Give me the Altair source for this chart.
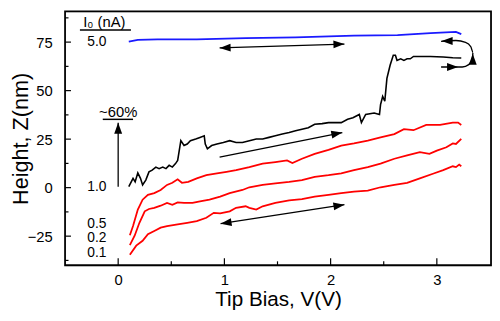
import altair as alt
import pandas as pd

# ---------------- data ----------------
blue_x = [0.10, 0.185, 0.37, 0.74, 1.20, 1.67, 2.22, 2.63, 2.94, 3.18, 3.23]
blue_y = [75.3, 76.2, 76.4, 76.4, 77.1, 77.4, 78.3, 78.6, 79.6, 80.3, 79.1]

black_x = [0.10, 0.14, 0.16, 0.185, 0.21, 0.23, 0.26, 0.29, 0.32, 0.355, 0.385, 0.42, 0.45, 0.48, 0.51,
           0.54, 0.56, 0.57, 0.59, 0.62, 0.65, 0.68, 0.73, 0.77, 0.81, 0.82, 0.84, 0.88, 0.93, 0.99,
           1.05, 1.11, 1.17, 1.235, 1.30, 1.36, 1.42, 1.48, 1.545, 1.61, 1.67, 1.73, 1.79, 1.85, 1.92,
           1.98, 2.04, 2.10, 2.16, 2.21, 2.27, 2.29, 2.33, 2.41, 2.46, 2.47, 2.49, 2.51, 2.53, 2.56,
           2.59, 2.61, 2.625, 2.66, 2.69, 2.72, 2.75, 2.78, 2.84, 2.94, 3.06, 3.15, 3.23]
black_y = [0.5, 4.8, 3.0, 7.6, 4.8, 1.4, 3.9, 8.1, 9.0, 10.6, 9.8, 10.6, 9.8, 11.5, 10.6,
           12.4, 14.0, 17.4, 24.2, 21.7, 22.5, 24.2, 25.1, 25.9, 26.7, 22.5, 20.0, 21.7, 22.5, 23.3,
           24.2, 23.3, 23.3, 24.2, 25.1, 25.1, 25.9, 26.7, 27.6, 28.4, 29.3, 30.1, 30.9, 32.7, 33.0,
           33.5, 33.5, 33.5, 35.2, 36.0, 37.7, 33.5, 37.7, 38.5, 37.7, 42.8, 47.0, 44.5, 56.3, 63.1,
           68.2, 68.2, 65.6, 66.4, 65.6, 66.4, 66.4, 67.6, 67.6, 67.6, 67.3, 66.9, 66.8]

red05_x = [0.11, 0.14, 0.185, 0.23, 0.28, 0.34, 0.40, 0.46, 0.51, 0.56, 0.60, 0.66, 0.74, 0.83, 0.93,
           1.02, 1.11, 1.235, 1.36, 1.48, 1.59, 1.64, 1.73, 1.85, 1.98, 2.10, 2.22, 2.35, 2.47, 2.60,
           2.69, 2.78, 2.90, 3.03, 3.15, 3.20, 3.23]
red05_y = [-24.5, -19.8, -11.3, -6.2, -3.7, -2.8, -1.2, 1.4, 2.5, 4.3, 2.5, 3.0, 4.8, 6.4, 7.3,
           8.1, 9.0, 10.6, 12.4, 13.2, 14.0, 12.7, 14.9, 17.4, 19.5, 21.7, 22.8, 24.2, 25.9, 27.6,
           30.1, 29.6, 32.3, 32.3, 33.5, 33.5, 32.3]

red02_x = [0.11, 0.155, 0.20, 0.25, 0.29, 0.34, 0.40, 0.46, 0.51, 0.56, 0.62, 0.70, 0.77, 0.86, 0.96,
           1.05, 1.17, 1.235, 1.36, 1.48, 1.61, 1.73, 1.85, 1.98, 2.10, 2.22, 2.35, 2.47, 2.60, 2.72,
           2.84, 2.93, 3.00, 3.09, 3.15, 3.18, 3.23]
red02_y = [-29.6, -24.8, -18.1, -12.2, -11.0, -10.4, -9.3, -7.9, -8.8, -7.6, -7.9, -7.9, -7.1, -6.2, -4.6,
           -2.8, -1.2, 0.2, 1.4, 2.2, 3.0, 3.9, 5.6, 6.4, 7.3, 9.0, 10.6, 12.4, 14.9, 16.6,
           18.3, 17.4, 19.1, 20.8, 22.8, 22.5, 25.1]

red01_x = [0.11, 0.17, 0.23, 0.28, 0.34, 0.40, 0.46, 0.56, 0.65, 0.74, 0.83, 0.90, 0.96, 1.05, 1.11,
           1.20, 1.235, 1.30, 1.36, 1.48, 1.61, 1.73, 1.85, 1.98, 2.10, 2.22, 2.35, 2.47, 2.60, 2.72,
           2.84, 2.97, 3.06, 3.15, 3.18, 3.21, 3.23]
red01_y = [-34.6, -29.9, -27.4, -24.0, -22.3, -20.6, -19.8, -18.9, -18.1, -17.2, -15.5, -13.0, -13.3, -12.2, -10.4,
           -9.6, -10.4, -11.3, -9.6, -7.9, -6.6, -5.9, -4.6, -3.7, -2.8, -2.0, -1.5, 0.2, 1.4, 2.5,
           4.8, 7.3, 9.0, 11.0, 10.6, 11.9, 11.0]

# current labels
cur_text = ["5.0", "1.0", "0.5", "0.2", "0.1"]
cur_x = [-0.11, -0.11, -0.11, -0.11, -0.11]
cur_y = [74.9, 0.5, -18.9, -26.2, -33.6]

# tick values
x_major = [0, 1, 2, 3]
x_minor = [0.5, 1.5, 2.5]
y_major = [-25, 0, 25, 50, 75]
y_minor = [-37.5, -12.5, 12.5, 37.5, 62.5, 87.5]

# annotation arrows (shafts): x, y, x2, y2
shaft_x = [0.955, 0.955, 0.964, 0.0]
shaft_y = [72.0, 15.7, -18.6, 0.5]
shaft_x2 = [2.13, 2.11, 2.13, 0.0]
shaft_y2 = [74.0, 28.4, -8.8, 33.5]

# return loop path at right
loop_x = [3.04, 3.24, 3.30, 3.335, 3.34, 3.32, 3.27, 3.18, 3.04]
loop_y = [62.2, 62.2, 63.4, 66.4, 69.8, 72.6, 74.9, 75.8, 75.4]

# arrow heads: tip positions, kind, rotation
head_x = [2.13, 0.955, 2.11, 2.13, 0.964, 0.0, 3.20, 3.338, 3.045]
head_y = [74.0, 72.0, 28.4, -8.8, -18.6, 33.5, 62.2, 69.0, 75.6]
head_kind = ["r", "l", "r", "r", "l", "u", "r", "u", "l"]
head_angle = [358.2, 358.2, 348.7, 351.3, 351.3, 0, 0, 0, 0]

# underlines under header labels
ul_x = [-0.36, -0.145]
ul_x2 = [0.12, 0.14]
ul_y = [81.3, 35.2]

hdr_text = ["I\u2080 (nA)", "~60%"]
hdr_x = [-0.13, 0.0]
hdr_y = [85.3, 39.0]

# ---------------- chart ----------------
W, H = 433, 258
FONT = "Liberation Sans"
xs = alt.Scale(domain=[-0.5, 3.51], nice=False, zero=False)
ys = alt.Scale(domain=[-40, 90.8], nice=False, zero=False)

xaxis = alt.Axis(values=x_major, ticks=False, tickSize=0, domain=False, grid=False,
                 labelFontSize=15, labelPadding=8, labelFont=FONT, labelColor="black",
                 title="Tip Bias, V(V)", titleFontSize=21, titleFont=FONT, titleFontWeight="normal",
                 titleColor="black", titleX=W / 2, titleY=41, titleBaseline="alphabetic",
                 titleAlign="center", format="d")
yaxis = alt.Axis(values=y_major, ticks=False, tickSize=0, domain=False, grid=False,
                 labelFontSize=15, labelPadding=13, labelFont=FONT, labelColor="black",
                 title="Height, Z(nm)", titleFontSize=22, titleFont=FONT, titleFontWeight="normal",
                 titleColor="black", titleX=-38, titleY=H / 2, titleAngle=270,
                 titleBaseline="alphabetic", titleAlign="center", format="d")

X = alt.X("x:Q", scale=xs, axis=xaxis)
Y = alt.Y("y:Q", scale=ys, axis=yaxis)

def series(xv, yv, color, sw=1.8):
    df = pd.DataFrame({"x": xv, "y": yv, "o": range(len(xv))})
    return alt.Chart(df).mark_line(color=color, strokeWidth=sw).encode(x=X, y=Y, order="o:Q")

blue = series(blue_x, blue_y, "#1a1aff")
black = series(black_x, black_y, "black", 1.6)
r1 = series(red05_x, red05_y, "#ff0000")
r2 = series(red02_x, red02_y, "#ff0000")
r3 = series(red01_x, red01_y, "#ff0000")

loop_df = pd.DataFrame({"x": loop_x, "y": loop_y, "o": range(len(loop_x))})
loop = alt.Chart(loop_df).mark_line(color="black", strokeWidth=1.4, interpolate="monotone").encode(
    x=X, y=Y, order="o:Q")

shaft_df = pd.DataFrame({"x": shaft_x, "y": shaft_y, "x2": shaft_x2, "y2": shaft_y2})
shafts = alt.Chart(shaft_df).mark_rule(color="black", strokeWidth=1.3).encode(
    x=X, y=Y, x2="x2:Q", y2="y2:Q")

head_df = pd.DataFrame({"x": head_x, "y": head_y, "k": head_kind, "a": head_angle})
paths = {"r": "M0,0L-1,-0.36L-1,0.36Z", "l": "M0,0L1,-0.36L1,0.36Z", "u": "M0,0L-0.36,1L0.36,1Z"}
heads = []
for k, p in paths.items():
    heads.append(
        alt.Chart(head_df[head_df.k == k]).mark_point(shape=p, filled=True, color="black",
                                                      size=500, opacity=1, strokeWidth=0)
        .encode(x=X, y=Y, angle=alt.Angle("a:Q", scale=None))
    )

ul_df = pd.DataFrame({"x": ul_x, "x2": ul_x2, "y": ul_y})
underlines = alt.Chart(ul_df).mark_rule(color="black", strokeWidth=1.5).encode(x=X, x2="x2:Q", y=Y)

hdr_df = pd.DataFrame({"x": hdr_x, "y": hdr_y, "t": hdr_text})
hdr = alt.Chart(hdr_df).mark_text(font=FONT, fontSize=15, color="black", align="center",
                                  baseline="middle").encode(x=X, y=Y, text="t:N")

cur_df = pd.DataFrame({"x": cur_x, "y": cur_y, "t": cur_text})
cur = alt.Chart(cur_df).mark_text(font=FONT, fontSize=14, color="black", align="right",
                                  baseline="middle").encode(x=X, y=Y, text="t:N")

# inward ticks
ytm = alt.Chart(pd.DataFrame({"y": y_major})).mark_rule(color="black", strokeWidth=1.2).encode(
    y=Y, x=alt.value(0), x2=alt.value(6))
ytn = alt.Chart(pd.DataFrame({"y": y_minor})).mark_rule(color="black", strokeWidth=1.2).encode(
    y=Y, x=alt.value(0), x2=alt.value(3.5))
xtm = alt.Chart(pd.DataFrame({"x": x_major})).mark_rule(color="black", strokeWidth=1.2).encode(
    x=X, y=alt.value(H), y2=alt.value(H - 7))
xtn = alt.Chart(pd.DataFrame({"x": x_minor})).mark_rule(color="black", strokeWidth=1.2).encode(
    x=X, y=alt.value(H), y2=alt.value(H - 4))

# plot frame
frame = alt.Chart(pd.DataFrame({"x": [0]})).mark_rect(
    fill=None, stroke="black", strokeWidth=1.8, fillOpacity=0
).encode(x=alt.value(0), x2=alt.value(W), y=alt.value(0), y2=alt.value(H))

chart = alt.layer(
    ytm, ytn, xtm, xtn, r3, r2, r1, black, blue, shafts, loop, *heads, underlines, hdr, cur, frame
).properties(
    width=W, height=H,
    autosize=alt.AutoSizeParams(type="none"),
    padding={"left": 58, "top": 1, "right": 1, "bottom": 45},
).configure_view(stroke="black", strokeWidth=1.6).configure(background="white")

chart.save("out.html", embed_options={"renderer": "svg", "actions": False})
